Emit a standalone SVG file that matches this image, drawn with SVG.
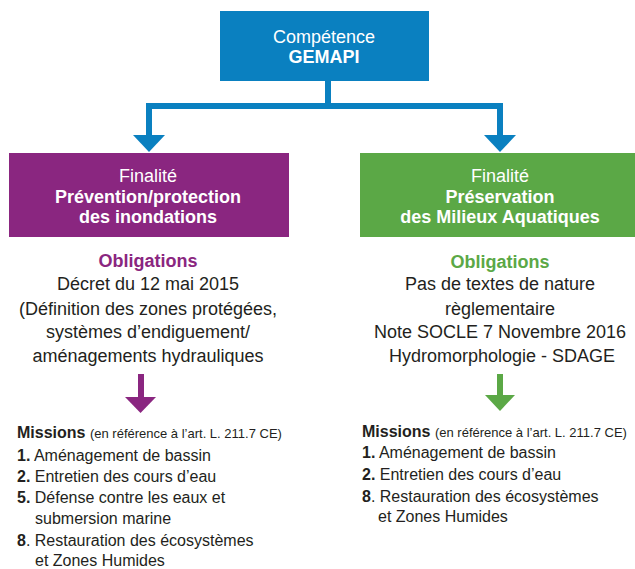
<svg xmlns="http://www.w3.org/2000/svg" width="635" height="569" viewBox="0 0 635 569">
<style>
text{font-family:"Liberation Sans",Arial,sans-serif;}
.w{fill:#ffffff;font-size:18px;text-anchor:middle;}
.b{font-weight:bold;}
.t{fill:#231f20;font-size:18px;text-anchor:middle;}
.m{fill:#231f20;font-size:16px;}
.s{font-size:13px;}
.blue{fill:#0a80c0;}
.purple{fill:#8a2680;}
.green{fill:#5ba846;}
.ln{fill:none;stroke-width:6;stroke-linecap:butt;stroke-linejoin:miter;}
</style>
<g id="connectors">
<path class="ln" stroke="#0a80c0" d="M328,81 V106 M149,136 V106 H500 V136"/>
<polygon class="blue" points="133,135 165,135 149,152"/>
<polygon class="blue" points="484,135 516,135 500,152"/>
<path class="ln" stroke="#8a2680" stroke-width="5" d="M141,374 V398"/>
<polygon class="purple" points="125,397 156,397 140.5,413"/>
<path class="ln" stroke="#5ba846" d="M500,374 V396"/>
<polygon class="green" points="485,395 515,395 500,411"/>
</g>
<g id="gemapi">
<rect class="blue" x="220" y="11" width="209" height="70"/>
<text class="w" x="324" y="43">Compétence</text>
<text class="w b" x="324" y="63">GEMAPI</text>
</g>
<g id="prevention">
<rect class="purple" x="9" y="153" width="280" height="84"/>
<text class="w" x="148" y="182">Finalité</text>
<text class="w b" x="148" y="203">Prévention/protection</text>
<text class="w b" x="148" y="223">des inondations</text>
</g>
<g id="preservation">
<rect class="green" x="360" y="153" width="275" height="84"/>
<text class="w" x="500" y="182">Finalité</text>
<text class="w b" x="500" y="203">Préservation</text>
<text class="w b" x="500" y="223">des Milieux Aquatiques</text>
</g>
<g id="obligations-left">
<text class="t b" x="148" y="267" fill="#8a2680" style="fill:#8a2680">Obligations</text>
<text class="t" x="148" y="290">Décret du 12 mai 2015</text>
<text class="t" x="148" y="315">(Définition des zones protégées,</text>
<text class="t" x="148" y="338">systèmes d’endiguement/</text>
<text class="t" x="148" y="362">aménagements hydrauliques</text>
</g>
<g id="obligations-right">
<text class="t b" x="500" y="268" style="fill:#5ba846">Obligations</text>
<text class="t" x="500" y="290">Pas de textes de nature</text>
<text class="t" x="500" y="315">règlementaire</text>
<text class="t" x="500" y="338">Note SOCLE 7 Novembre 2016</text>
<text class="t" x="502" y="362">Hydromorphologie - SDAGE</text>
</g>
<g id="missions-left">
<text class="m" x="17" y="438"><tspan class="b">Missions</tspan> <tspan class="s">(en référence à l’art. L. 211.7 CE)</tspan></text>
<text class="m" x="17" y="461"><tspan class="b">1.</tspan> Aménagement de bassin</text>
<text class="m" x="17" y="482"><tspan class="b">2.</tspan> Entretien des cours d’eau</text>
<text class="m" x="17" y="503"><tspan class="b">5.</tspan> Défense contre les eaux et</text>
<text class="m" x="35" y="524">submersion marine</text>
<text class="m" x="17" y="546"><tspan class="b">8</tspan>. Restauration des écosystèmes</text>
<text class="m" x="35" y="566">et Zones Humides</text>
</g>
<g id="missions-right">
<text class="m" x="362" y="437"><tspan class="b">Missions</tspan> <tspan class="s">(en référence à l’art. L. 211.7 CE)</tspan></text>
<text class="m" x="362" y="458"><tspan class="b">1.</tspan> Aménagement de bassin</text>
<text class="m" x="362" y="480"><tspan class="b">2.</tspan> Entretien des cours d’eau</text>
<text class="m" x="362" y="502"><tspan class="b">8</tspan>. Restauration des écosystèmes</text>
<text class="m" x="378" y="522">et Zones Humides</text>
</g>
</svg>
